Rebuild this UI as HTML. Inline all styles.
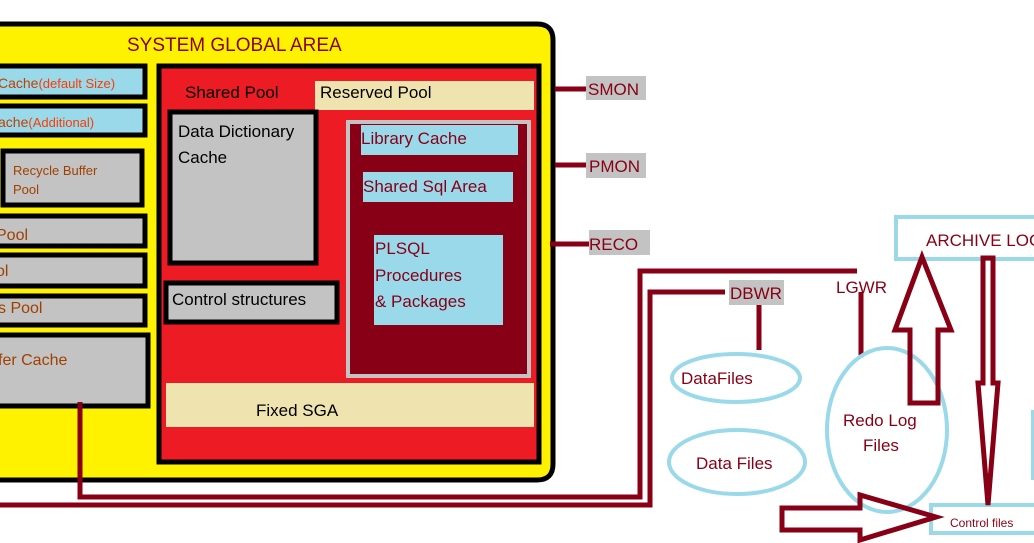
<!DOCTYPE html>
<html><head><style>
html,body{margin:0;padding:0;background:#fff;width:1034px;height:543px;overflow:hidden}
svg text{font-family:"Liberation Sans","DejaVu Sans",sans-serif}
</style></head><body>
<svg width="1034" height="543" viewBox="0 0 1034 543" xmlns="http://www.w3.org/2000/svg">
<!-- SGA yellow -->
<path d="M-10 24 H537 Q553 24 553 40 V464 Q553 480 537 480 H-10 Z" fill="#fff200" stroke="#000" stroke-width="5"/>
<text x="127" y="51" font-size="19" fill="#880015">SYSTEM GLOBAL AREA</text>
<!-- left boxes -->
<g stroke="#000" stroke-width="5">
<rect x="-10" y="66" width="155" height="31" fill="#99d9ea"/>
<rect x="-10" y="106" width="155" height="29" fill="#99d9ea"/>
<rect x="3" y="151" width="139" height="54" fill="#c3c3c3"/>
<rect x="-10" y="216" width="155" height="30" fill="#c3c3c3"/>
<rect x="-10" y="255" width="155" height="31" fill="#c3c3c3"/>
<rect x="-10" y="296" width="155" height="29" fill="#c3c3c3"/>
<rect x="-10" y="335" width="158" height="71" fill="#c3c3c3"/>
</g>
<text x="-2" y="88" font-size="14" fill="#c04000">Cache<tspan fill="#ff3a00" font-size="13">(default Size)</tspan></text>
<text x="-2" y="127" font-size="14" fill="#c04000">ache<tspan fill="#ff3a00" font-size="13">(Additional)</tspan></text>
<text x="13" y="175" font-size="13" fill="#a04000">Recycle Buffer</text>
<text x="13" y="194" font-size="13" fill="#a04000">Pool</text>
<text x="-4" y="240" font-size="16" fill="#a04000">Pool</text>
<text x="-4" y="276" font-size="16" fill="#a04000">ol</text>
<text x="-2" y="313" font-size="16" fill="#a04000">s Pool</text>
<text x="-2" y="365" font-size="16" fill="#a04000">fer Cache</text>
<!-- red box -->
<rect x="159" y="66" width="380" height="396" fill="#ed1c24" stroke="#000" stroke-width="5"/>
<text x="185" y="98" font-size="17" fill="#000">Shared Pool</text>
<rect x="315" y="81" width="219" height="29" fill="#efe4b0"/>
<text x="320" y="98" font-size="17" fill="#000">Reserved Pool</text>
<rect x="170" y="112" width="146" height="151" fill="#c3c3c3" stroke="#000" stroke-width="5"/>
<text x="178" y="137" font-size="17" fill="#000">Data Dictionary</text>
<text x="178" y="163" font-size="17" fill="#000">Cache</text>
<rect x="166" y="283" width="171" height="39" fill="#c3c3c3" stroke="#000" stroke-width="5"/>
<text x="172" y="305" font-size="17" fill="#000">Control structures</text>
<rect x="348" y="122" width="181" height="254" fill="#880015" stroke="#c3c3c3" stroke-width="4"/>
<rect x="361" y="125" width="157" height="30" fill="#99d9ea"/>
<text x="361" y="144" font-size="17" fill="#880015">Library Cache</text>
<rect x="363" y="172" width="150" height="30" fill="#99d9ea"/>
<text x="363" y="192" font-size="17" fill="#880015">Shared Sql Area</text>
<rect x="374" y="235" width="129" height="90" fill="#99d9ea"/>
<text x="375" y="254" font-size="17" fill="#880015">PLSQL</text>
<text x="375" y="281" font-size="17" fill="#880015">Procedures</text>
<text x="375" y="307" font-size="17" fill="#880015">&amp; Packages</text>
<rect x="166" y="383" width="368" height="44" fill="#efe4b0"/>
<text x="256" y="416" font-size="17" fill="#000">Fixed SGA</text>
<!-- background processes -->
<g stroke="#880015" stroke-width="5" fill="none">
<line x1="555" y1="89" x2="587" y2="89"/>
<line x1="555" y1="165" x2="587" y2="165"/>
<line x1="550" y1="244" x2="590" y2="244"/>
<polyline points="80,402 80,497 640,497 640,271 857,271"/>
<polyline points="0,505 650,505 650,292 725,292"/>
<line x1="759" y1="305" x2="759" y2="350"/>
<line x1="861" y1="292" x2="861" y2="355"/>
</g>
<rect x="586" y="76" width="60" height="24" fill="#c3c3c3"/>
<text x="588" y="95" font-size="17" fill="#880015">SMON</text>
<rect x="586" y="153" width="60" height="25" fill="#c3c3c3"/>
<text x="589" y="172" font-size="17" fill="#880015">PMON</text>
<rect x="589" y="230" width="61" height="25" fill="#c3c3c3"/>
<text x="589" y="250" font-size="17" fill="#880015">RECO</text>
<rect x="729" y="280" width="55" height="25" fill="#c3c3c3"/>
<text x="730" y="299" font-size="17" fill="#880015">DBWR</text>
<text x="836" y="293" font-size="17" fill="#880015">LGWR</text>
<!-- files -->
<g fill="none" stroke="#99d9ea" stroke-width="4">
<ellipse cx="736" cy="378" rx="64" ry="24"/>
<ellipse cx="737" cy="462" rx="68" ry="32"/>
<ellipse cx="887" cy="430" rx="60" ry="82"/>
<rect x="896" y="217" width="150" height="42"/>
<rect x="931" y="505" width="110" height="28"/>
<line x1="1033" y1="410" x2="1033" y2="480"/>
</g>
<text x="681" y="384" font-size="17" fill="#880015">DataFiles</text>
<text x="696" y="469" font-size="17" fill="#880015">Data Files</text>
<text x="843" y="426" font-size="17" fill="#880015">Redo Log</text>
<text x="863" y="451" font-size="17" fill="#880015">Files</text>
<text x="926" y="246" font-size="17" fill="#880015">ARCHIVE LOG</text>
<text x="950" y="527" font-size="12" fill="#880015">Control files</text>
<!-- arrows -->
<g fill="none" stroke="#880015" stroke-width="5" stroke-linejoin="miter">
<polygon points="922,257 951,330 938,330 938,403 910,403 910,330 895,330"/>
<polygon points="983,258 993,258 993,383 998,383 988,505 978,383 983,383"/>
<polygon points="782,508 860,508 860,495 936,517 860,540 860,530 782,530"/>
</g>
</svg>
</body></html>
